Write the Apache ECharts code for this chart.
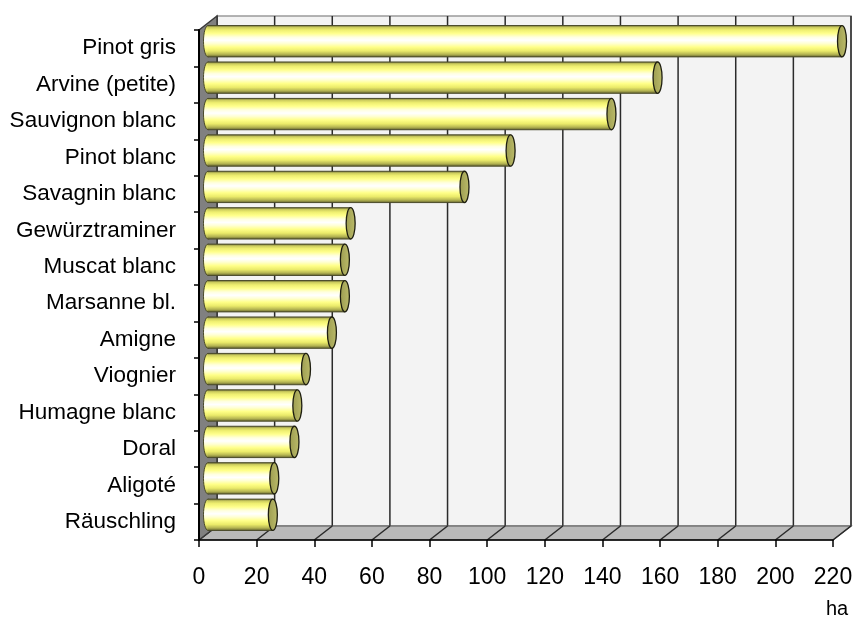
<!DOCTYPE html>
<html>
<head>
<meta charset="utf-8">
<script src="https://cdn.jsdelivr.net/npm/echarts@6/dist/echarts.min.js"></script>
<style>html,body{margin:0;padding:0;background:#fff;}#c{width:857px;height:619px;}</style>
</head>
<body>
<div id="c"></div>
<script>
var categories = ['Pinot gris', 'Arvine (petite)', 'Sauvignon blanc', 'Pinot blanc', 'Savagnin blanc', 'Gewürztraminer', 'Muscat blanc', 'Marsanne bl.', 'Amigne', 'Viognier', 'Humagne blanc', 'Doral', 'Aligoté', 'Räuschling'];
var values = [220, 156, 140, 105, 89, 49.5, 47.5, 47.5, 43, 34, 31, 30, 23, 22.5];
var xTicks = [0, 20, 40, 60, 80, 100, 120, 140, 160, 180, 200, 220];
var unitName = 'ha';

var DX = 18, DY = -14;
var FONT = '"Liberation Sans", Arial, sans-serif';

var chart = echarts.init(document.getElementById('c'));

function frameItem(params, api) {
  var cs = params.coordSys;
  var gx = cs.x, gy = cs.y, gw = cs.width, gh = cs.height;
  var children = [];
  children.push({type: 'rect', shape: {x: gx + DX, y: gy + DY, width: gw, height: gh},
    style: {fill: '#f3f3f3', stroke: '#9a9a9a', lineWidth: 1.5}});
  xTicks.forEach(function (v) {
    var x = api.coord([v, 0])[0];
    children.push({type: 'line', shape: {x1: x + DX, y1: gy + DY, x2: x + DX, y2: gy + gh + DY},
      style: {stroke: '#2a2a2a', lineWidth: 1.5}});
  });
  children.push({type: 'polygon', shape: {points: [[gx, gy + gh], [gx + gw, gy + gh], [gx + gw + DX, gy + gh + DY], [gx + DX, gy + gh + DY]]},
    style: {fill: '#b9b9b9', stroke: '#555', lineWidth: 1.2}});
  xTicks.forEach(function (v) {
    var x = api.coord([v, 0])[0];
    children.push({type: 'line', shape: {x1: x, y1: gy + gh, x2: x + DX, y2: gy + gh + DY},
      style: {stroke: '#2a2a2a', lineWidth: 1.5}});
  });
  children.push({type: 'polygon', shape: {points: [[gx, gy], [gx + DX, gy + DY], [gx + DX, gy + gh + DY], [gx, gy + gh]]},
    style: {fill: '#808080', stroke: '#3a3a3a', lineWidth: 1.5}});
  return {type: 'group', children: children};
}

var bodyGrad = new echarts.graphic.LinearGradient(0, 0, 0, 1, [
  {offset: 0, color: '#74743a'},
  {offset: 0.06, color: '#cdcd5e'},
  {offset: 0.14, color: '#efef70'},
  {offset: 0.25, color: '#ffff8c'},
  {offset: 0.37, color: '#ffffe0'},
  {offset: 0.47, color: '#ffffff'},
  {offset: 0.57, color: '#ffffd4'},
  {offset: 0.69, color: '#ffff88'},
  {offset: 0.81, color: '#ebeb6a'},
  {offset: 0.92, color: '#b4b452'},
  {offset: 1, color: '#666630'}
]);
var capGrad = new echarts.graphic.LinearGradient(0, 0, 1, 0, [
  {offset: 0, color: '#9c9c50'},
  {offset: 1, color: '#bcbc6a'}
]);

function barItem(params, api) {
  var idx = api.value(1);
  var v = api.value(0);
  var p0 = api.coord([0, idx]);
  var p1 = api.coord([v, idx]);
  var band = api.size([0, 1])[1];
  var h = band * 0.86;
  var ox = DX / 2, oy = DY / 2;
  var x0 = p0[0] + ox, x1 = p1[0] + ox, cy = p0[1] + oy;
  var rx = 4.5, ry = h / 2;
  return {type: 'group', children: [
    {type: 'ellipse', shape: {cx: x0, cy: cy, rx: rx, ry: ry}, style: {fill: bodyGrad, stroke: '#4a4a2a', lineWidth: 1}},
    {type: 'rect', shape: {x: x0, y: cy - ry, width: x1 - x0, height: h}, style: {fill: bodyGrad}},
    {type: 'line', shape: {x1: x0, y1: cy - ry, x2: x1, y2: cy - ry}, style: {stroke: '#4a4a2a', lineWidth: 1}},
    {type: 'line', shape: {x1: x0, y1: cy + ry, x2: x1, y2: cy + ry}, style: {stroke: '#4a4a2a', lineWidth: 1}},
    {type: 'ellipse', shape: {cx: x1, cy: cy, rx: rx, ry: ry}, style: {fill: capGrad, stroke: '#1e1e10', lineWidth: 1.3}}
  ]};
}

var barData = values.map(function (v, i) { return [v, i]; });

chart.setOption({
  animation: false,
  backgroundColor: '#ffffff',
  title: {text: unitName, left: 821, top: 594, textStyle: {fontFamily: FONT, fontSize: 20, fontWeight: 'normal', color: '#000'}},
  grid: {left: 199, right: 24, top: 30, bottom: 79, containLabel: false},
  xAxis: {
    type: 'value', min: 0, max: 220, interval: 20, z: 10,
    axisLine: {show: true, lineStyle: {color: '#000', width: 1.5}},
    axisTick: {show: true, length: 7, lineStyle: {color: '#000', width: 1.5}},
    axisLabel: {margin: 26, fontFamily: FONT, fontSize: 23, color: '#000'},
    splitLine: {show: false}
  },
  yAxis: {
    type: 'category', data: categories, inverse: true, z: 10,
    axisLine: {show: true, lineStyle: {color: '#000', width: 2}},
    axisTick: {show: true, length: 5, lineStyle: {color: '#000', width: 1.5}},
    axisLabel: {margin: 23, fontFamily: FONT, fontSize: 22.5, color: '#000'}
  },
  series: [
    {type: 'custom', renderItem: frameItem, data: [[0, 0]], z: 1, silent: true, clip: false},
    {type: 'custom', renderItem: barItem, data: barData, encode: {x: 0, y: 1}, z: 3, clip: false}
  ]
});
</script>
</body>
</html>
